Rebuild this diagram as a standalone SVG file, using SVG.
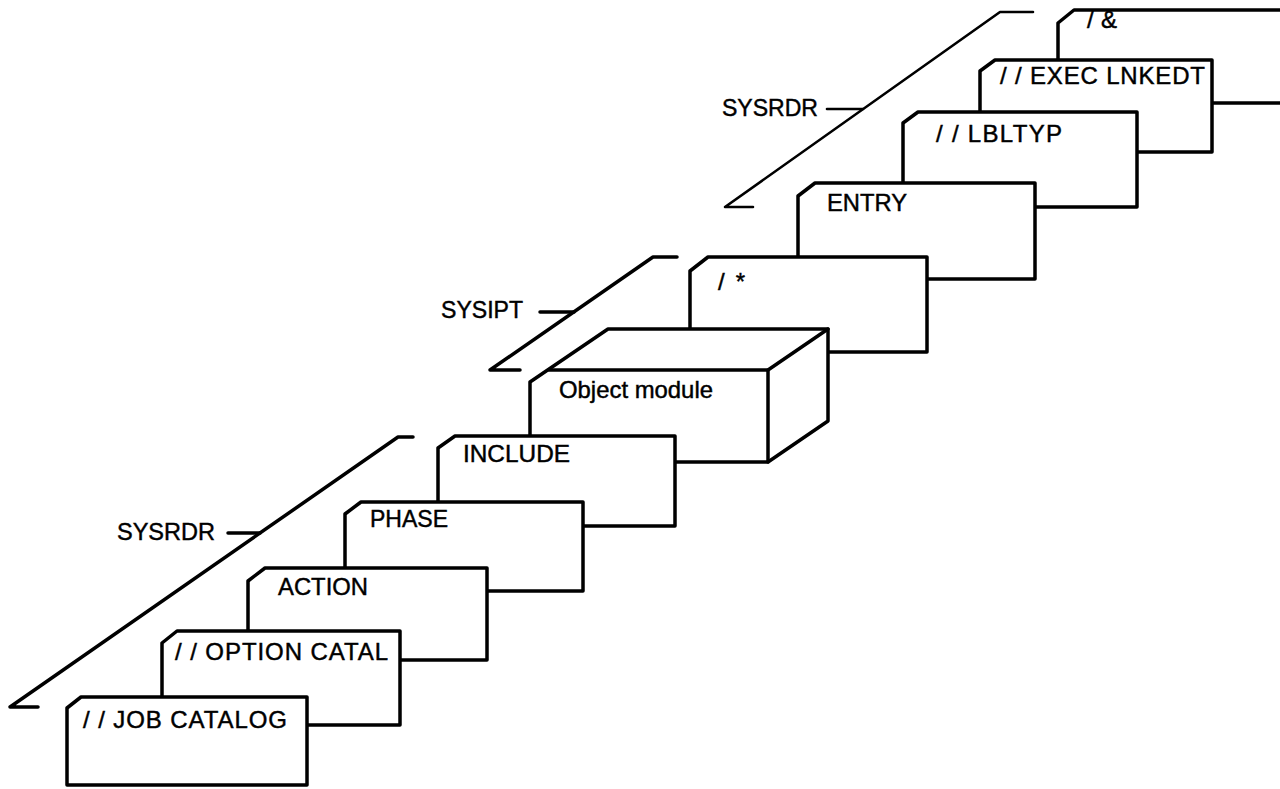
<svg xmlns="http://www.w3.org/2000/svg" width="1280" height="789" viewBox="0 0 1280 789">
  <style>
    .card { fill: #fff; stroke: #000; stroke-width: 3.5; stroke-linejoin: round; }
    .edge { fill: none; stroke: #000; stroke-width: 3.5; stroke-linejoin: round; stroke-linecap: round; }
    .thin { fill: none; stroke: #000; stroke-width: 2.6; stroke-linejoin: round; stroke-linecap: round; }
    .lbl { font-family: "Liberation Sans", Arial, Helvetica, sans-serif; font-size: 24px; fill: #000; stroke: #000; stroke-width: 0.45; }
  </style>
  <rect width="1280" height="789" fill="#fff"/>

  <!-- input hoppers (device brackets) -->
  <g id="connectors">
    <polyline class="edge" points="38,707 10,707 398,437 413,437"/>
    <line class="edge" x1="228" y1="533" x2="260" y2="533"/>
    <polyline class="edge" points="520,370 490,370 653,257 677,257"/>
    <line class="edge" x1="540" y1="312" x2="574" y2="312"/>
    <polyline class="thin" points="753,207 725,207 1000,12 1033,12"/>
    <line class="thin" x1="827" y1="109" x2="863" y2="109"/>
  </g>

  <g id="label-sysrdr-low"><text class="lbl" x="117" y="540" textLength="98" lengthAdjust="spacingAndGlyphs">SYSRDR</text></g>
  <g id="label-sysipt"><text class="lbl" x="441" y="318" textLength="82" lengthAdjust="spacingAndGlyphs">SYSIPT</text></g>
  <g id="label-sysrdr-high"><text class="lbl" x="722" y="116" textLength="96" lengthAdjust="spacingAndGlyphs">SYSRDR</text></g>

  <!-- cards drawn back to front -->
  <g id="card-amp">
    <path class="card" d="M1058,23 L1074,10 L1300,10 L1300,103 L1058,103 Z"/>
    <text class="lbl" x="1087" y="28" textLength="30" lengthAdjust="spacing">/ &amp;</text>
  </g>
  <g id="card-exec">
    <path class="card" d="M980,71 L995,60 L1212,60 L1212,152 L980,152 Z"/>
    <text class="lbl" x="1000" y="84" textLength="205" lengthAdjust="spacing">/ / EXEC LNKEDT</text>
  </g>
  <g id="card-lbltyp">
    <path class="card" d="M903,123 L918,112 L1137,112 L1137,207 L903,207 Z"/>
    <text class="lbl" x="936" y="142" textLength="126" lengthAdjust="spacing">/ / LBLTYP</text>
  </g>
  <g id="card-entry">
    <path class="card" d="M798,196 L815,183 L1035,183 L1035,279 L798,279 Z"/>
    <text class="lbl" x="827" y="211" textLength="80" lengthAdjust="spacingAndGlyphs">ENTRY</text>
  </g>
  <g id="card-endsysipt">
    <path class="card" d="M690,271 L708,257 L927,257 L927,352 L690,352 Z"/>
    <text class="lbl" x="718" y="290" textLength="27" lengthAdjust="spacing">/ *</text>
  </g>
  <g id="object-module">
    <path class="card" d="M530,382 L608,329 L828,329 L828,421 L768,462 L530,462 Z"/>
    <polyline class="edge" points="549,370 768,370 828,329"/>
    <line class="edge" x1="768" y1="370" x2="768" y2="462"/>
    <text class="lbl" x="559" y="398" textLength="154" lengthAdjust="spacingAndGlyphs">Object module</text>
  </g>
  <g id="card-include">
    <path class="card" d="M438,448 L455,436 L675,436 L675,526 L438,526 Z"/>
    <text class="lbl" x="463" y="462" textLength="107" lengthAdjust="spacingAndGlyphs">INCLUDE</text>
  </g>
  <g id="card-phase">
    <path class="card" d="M345,514 L361,502 L583,502 L583,591 L345,591 Z"/>
    <text class="lbl" x="370" y="527" textLength="78" lengthAdjust="spacingAndGlyphs">PHASE</text>
  </g>
  <g id="card-action">
    <path class="card" d="M248,581 L265,568 L487,568 L487,660 L248,660 Z"/>
    <text class="lbl" x="278" y="595" textLength="90" lengthAdjust="spacingAndGlyphs">ACTION</text>
  </g>
  <g id="card-option">
    <path class="card" d="M162,643 L177,631 L400,631 L400,725 L162,725 Z"/>
    <text class="lbl" x="175" y="660" textLength="213" lengthAdjust="spacing">/ / OPTION CATAL</text>
  </g>
  <g id="card-job">
    <path class="card" d="M67,708 L81,697 L307,697 L307,785 L67,785 Z"/>
    <text class="lbl" x="83" y="728" textLength="204" lengthAdjust="spacing">/ / JOB CATALOG</text>
  </g>
</svg>
